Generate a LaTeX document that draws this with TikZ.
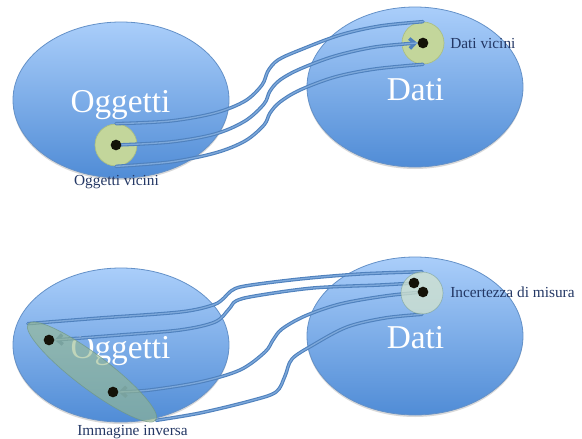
\documentclass[tikz,border=0pt]{standalone}
\usepackage{fontspec}
\setmainfont{Liberation Serif}
\usetikzlibrary{shapes.geometric, arrows.meta, shadows}
\definecolor{ellTop}{RGB}{170,206,250}
\definecolor{ellBot}{RGB}{80,140,214}
\definecolor{ellBorder}{RGB}{100,145,200}
\definecolor{greenFill}{RGB}{195,214,155}
\definecolor{greenBorder}{RGB}{170,190,130}
\definecolor{lineBlue}{RGB}{79,129,189}
\definecolor{lineInner}{RGB}{125,168,218}
\definecolor{labelBlue}{RGB}{35,55,100}
\definecolor{invFill}{RGB}{150,185,140}
\definecolor{invBorder}{RGB}{110,150,130}
\definecolor{uncFill}{RGB}{212,228,205}
\definecolor{dotCol}{RGB}{20,18,8}
\pgfdeclarelayer{front}
\pgfsetlayers{main,front}
\begin{document}
\begin{tikzpicture}[x=0.75pt, y=-0.75pt,
  bigell/.style={ellipse, draw=ellBorder, line width=0.6pt, top color=ellTop, bottom color=ellBot,
    minimum width=162pt, inner sep=0pt,
    drop shadow={shadow xshift=0pt, shadow yshift=-1.5pt, opacity=0.25, fill=black!60}},
  bigtext/.style={text=white, font=\fontsize{25}{30}\selectfont, anchor=base, inner sep=0pt},
  smalltext/.style={text=labelBlue, font=\fontsize{11.5}{14}\selectfont, inner sep=0pt},
  nbhd/.style={circle, fill=greenFill, draw=greenBorder, line width=0.5pt, minimum size=31.5pt, inner sep=0pt},
  dotnode/.style={circle, fill=dotCol, minimum size=8pt, inner sep=0pt},
  conn/.style={draw=lineBlue, line width=2.6pt, line cap=round,
    postaction={draw=lineInner, line width=1.0pt, -}},
  tip/.style={-{Straight Barb[length=4pt, width=7.5pt]}}
]
\useasboundingbox (0,0) rectangle (582,439);

% ---------- top diagram ----------
\node[bigell, minimum height=117pt] (oggA) at (121,100) {};
\node[bigell, minimum height=120pt] (datiA) at (415,87) {};
\node[bigtext] (oggAt) at (120.5,112) {Oggetti};
\node[bigtext] (datiAt) at (415.5,100) {Dati};
\node[nbhd] (o1) at (116,145) {};
\node[nbhd] (d1) at (423,43) {};
\node[smalltext, anchor=base] (o1l) at (116.5,185) {Oggetti vicini};
\node[smalltext, anchor=base west] (d1l) at (450,48) {Dati vicini};

\begin{pgfonlayer}{front}
\node[dotnode] (od1) at (116,145) {};
\node[dotnode] (dd1) at (423,43) {};
\end{pgfonlayer}

\draw[conn] plot[smooth, tension=0.55] coordinates {(o1.north) (170,121) (215,113) (245,101) (262,85) (268,71) (278,60) (300,50) (340,35) (380,26) (d1.north)};
\draw[conn, tip] plot[smooth, tension=0.55] coordinates {(od1.center) (170,142) (215,134) (245,121) (264,104) (270,91) (280,80) (300,69) (335,56) (375,47) (dd1.west)};
\draw[conn] plot[smooth, tension=0.55] coordinates {(o1.south) (170,162) (215,153) (245,141) (264,125) (270,113) (280,102) (300,90) (335,77) (375,69) (d1.south)};

% ---------- bottom diagram ----------
\node[bigell, minimum height=115.5pt] (oggB) at (121,345) {};
\node[bigell, minimum height=118.5pt] (datiB) at (415,336) {};
\node[bigtext] (oggBt) at (120.5,358) {Oggetti};
\node[bigtext] (datiBt) at (415.5,348) {Dati};
\node[smalltext, anchor=base west] (c2l) at (450,297) {Incertezza di misura};
\node[smalltext, anchor=base] (invl) at (132.5,435) {Immagine inversa};

\begin{pgfonlayer}{front}
\node[ellipse, fill=invFill, fill opacity=0.6, draw=invBorder, draw opacity=0.7, line width=0.5pt,
  minimum width=120pt, minimum height=25.5pt, inner sep=0pt, rotate=-37] (inv) at (92,372) {};
\node[circle, fill=uncFill, fill opacity=0.75, draw=invBorder, draw opacity=0.5, line width=0.5pt,
  minimum size=31.5pt, inner sep=0pt] (c2) at (422,293) {};
\node[dotnode] (u1) at (414,283) {};
\node[dotnode] (u2) at (423,292) {};
\node[dotnode] (i1) at (49,340) {};
\node[dotnode] (i2) at (113,392) {};
\end{pgfonlayer}

\draw[conn] plot[smooth, tension=0.55] coordinates {(inv.west) (100,318) (180,312) (213,305) (224,298) (231,291) (245,286) (300,279) (360,274) (c2.north)};
\draw[conn, tip] plot[smooth, tension=0.55] coordinates {(u1.center) (380,285) (313,288) (255,296) (236,301) (229,309) (215,322) (180,330) (120,335) (i1.east)};
\draw[conn, tip] plot[smooth, tension=0.55] coordinates {(u2.center) (385,296) (340,304) (305,316) (282,329) (273,340) (265,352) (240,370) (200,382) (150,390) (i2.east)};
\draw[conn] plot[smooth, tension=0.55] coordinates {(inv.east) (200,413) (250,401) (276,392) (285,376) (292,359) (313,345) (347,327) (385,318) (c2.south)};
\end{tikzpicture}
\end{document}
